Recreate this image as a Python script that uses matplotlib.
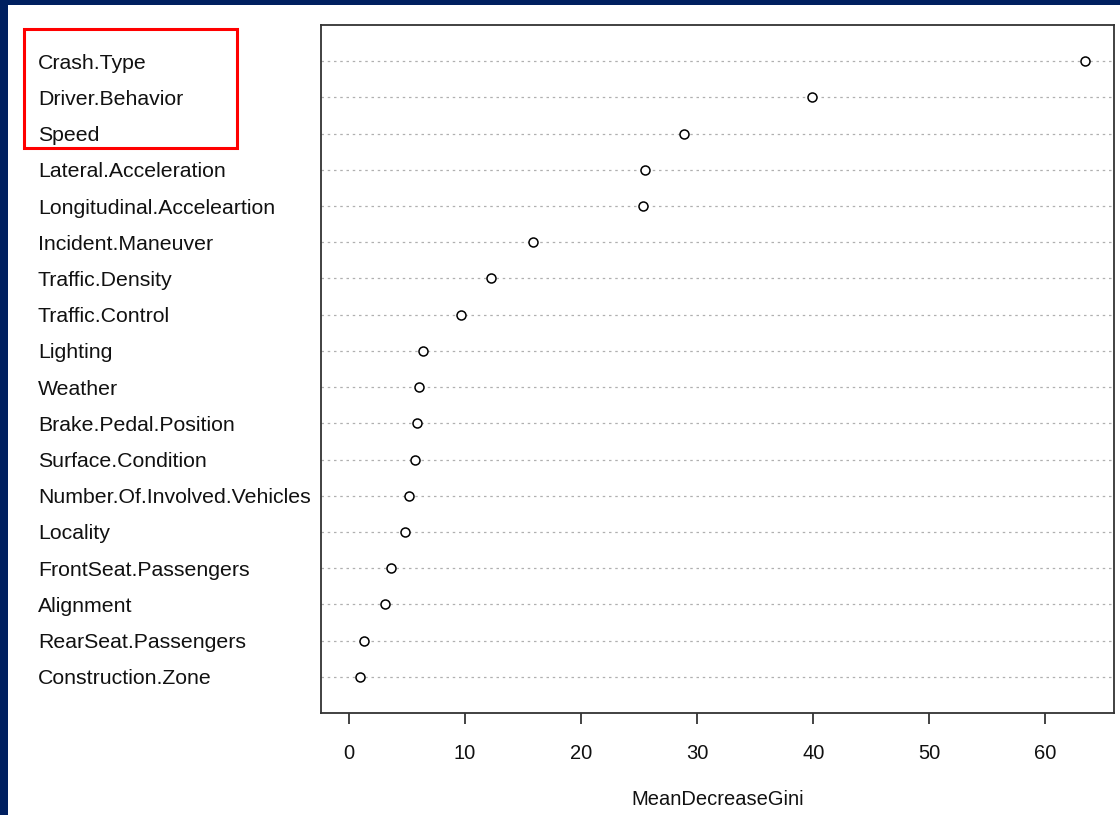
"""
Random forest variable importance – dot chart (MeanDecreaseGini)
"""

import matplotlib.pyplot as plt
from matplotlib.patches import Rectangle

# ── Data ────────────────────────────────────────────────────────────────────────
VARIABLES = [
    "Crash.Type", "Driver.Behavior", "Speed", "Lateral.Acceleration",
    "Longitudinal.Acceleartion", "Incident.Maneuver", "Traffic.Density",
    "Traffic.Control", "Lighting", "Weather", "Brake.Pedal.Position",
    "Surface.Condition", "Number.Of.Involved.Vehicles", "Locality",
    "FrontSeat.Passengers", "Alignment", "RearSeat.Passengers", "Construction.Zone",
]
GINI = [63.4, 39.9, 28.9, 25.5, 25.3, 15.9, 12.2, 9.7, 6.4, 6.0,
        5.9, 5.7, 5.2, 4.8, 3.6, 3.1, 1.3, 1.0]
X_TICKS = [0, 10, 20, 30, 40, 50, 60]

# ── Style ───────────────────────────────────────────────────────────────────────
NAVY = "#002060"
plt.rcParams["font.family"] = ["Liberation Sans", "DejaVu Sans"]


def main():
    fig = plt.figure(figsize=(11.2, 8.15), dpi=100)
    fig.patch.set_facecolor("white")

    # navy slide frame (left and top strips)
    fig.patches.append(Rectangle((0, 0), 8 / 1120, 1, transform=fig.transFigure,
                                 facecolor=NAVY, edgecolor="none", zorder=0))
    fig.patches.append(Rectangle((0, 1 - 5 / 815), 1, 5 / 815, transform=fig.transFigure,
                                 facecolor=NAVY, edgecolor="none", zorder=0))

    ax = fig.add_axes([321 / 1120, 102 / 815, 793 / 1120, 688 / 815])

    n = len(VARIABLES)
    ypos = list(range(n, 0, -1))      # first variable on top

    for y in ypos:
        ax.axhline(y, color="#b0b0b0", linestyle=(0, (2, 3)), linewidth=0.9, zorder=1)
    ax.scatter(GINI, ypos, s=42, facecolors="white", edgecolors="black",
               linewidths=1.1, zorder=3)

    ax.set_xlim(-2.4, 65.9)
    ax.set_ylim(0, n + 1)
    ax.set_yticks([])
    ax.set_xticks(X_TICKS)
    ax.set_xticklabels([str(t) for t in X_TICKS], fontsize=14.5)
    ax.tick_params(axis="x", length=8, width=1.1, pad=14, colors="#111111")
    ax.set_xlabel("MeanDecreaseGini", fontsize=14.5, labelpad=20, color="#111111")
    for sp in ax.spines.values():
        sp.set_linewidth(1.3)
        sp.set_color("#333333")

    # variable names, left aligned like R's dotchart
    for lbl, y in zip(VARIABLES, ypos):
        ax.text((38 - 321) / 793, y, lbl, transform=ax.get_yaxis_transform(),
                ha="left", va="center_baseline", fontsize=15.3, color="#111111")

    # red highlight box around the top three variables
    fig.patches.append(Rectangle((24 / 1120, 1 - 148 / 815), 213 / 1120, 119 / 815,
                                 transform=fig.transFigure, facecolor="none",
                                 edgecolor="#ff0000", linewidth=2.2, zorder=5))

    fig.savefig("out.png", dpi=100, facecolor=fig.get_facecolor())


if __name__ == "__main__":
    main()
